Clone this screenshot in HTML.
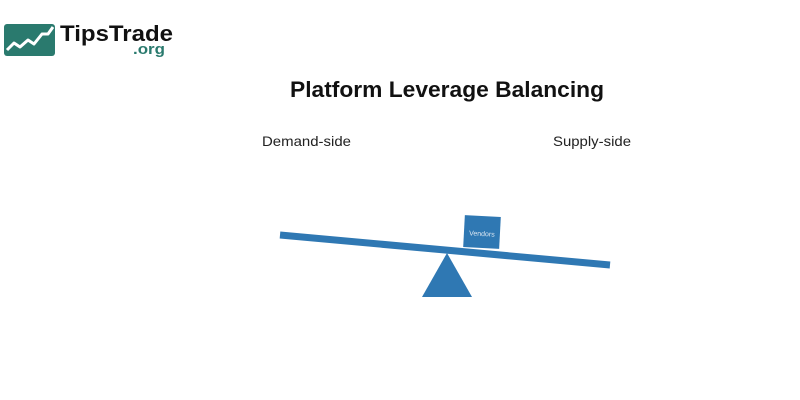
<!DOCTYPE html>
<html><head><meta charset="utf-8"><style>html,body{margin:0;padding:0;background:#fff;}svg{display:block}</style></head>
<body>
<svg width="800" height="400" viewBox="0 0 800 400" xmlns="http://www.w3.org/2000/svg">
<rect width="800" height="400" fill="#fff"/>
<rect x="4" y="24" width="51" height="32" rx="3" fill="#2a7a6e"/>
<polyline points="7,50 14,43 20,47 28,40 34,44 42,34 48,34 53,27" fill="none" stroke="#fff" stroke-width="3" stroke-linejoin="round"/>
<text x="60" y="41" font-family="Liberation Sans, sans-serif" font-weight="bold" font-size="22" fill="#111" textLength="113" lengthAdjust="spacingAndGlyphs">TipsTrade</text>
<text x="133" y="54" font-family="Liberation Sans, sans-serif" font-weight="bold" font-size="15" fill="#2a7a6e" textLength="32" lengthAdjust="spacingAndGlyphs">.org</text>
<text x="290" y="97" font-family="Liberation Sans, sans-serif" font-weight="bold" font-size="22" fill="#111" textLength="314" lengthAdjust="spacingAndGlyphs">Platform Leverage Balancing</text>
<text x="262" y="146" font-family="Liberation Sans, sans-serif" font-size="14" fill="#222" textLength="89" lengthAdjust="spacingAndGlyphs">Demand-side</text>
<text x="553" y="146" font-family="Liberation Sans, sans-serif" font-size="14" fill="#222" textLength="78" lengthAdjust="spacingAndGlyphs">Supply-side</text>
<polygon points="447,253 422,297 472,297" fill="#2f78b3"/>
<line x1="280" y1="235" x2="610" y2="265" stroke="#2f78b3" stroke-width="7"/>
<g transform="rotate(3 482 232)">
<rect x="464" y="216" width="36" height="32" fill="#2f78b3"/>
<text x="482" y="236" font-family="Liberation Sans, sans-serif" font-size="7" fill="#dfe9f3" text-anchor="middle">Vendors</text>
</g>
</svg>
</body></html>
